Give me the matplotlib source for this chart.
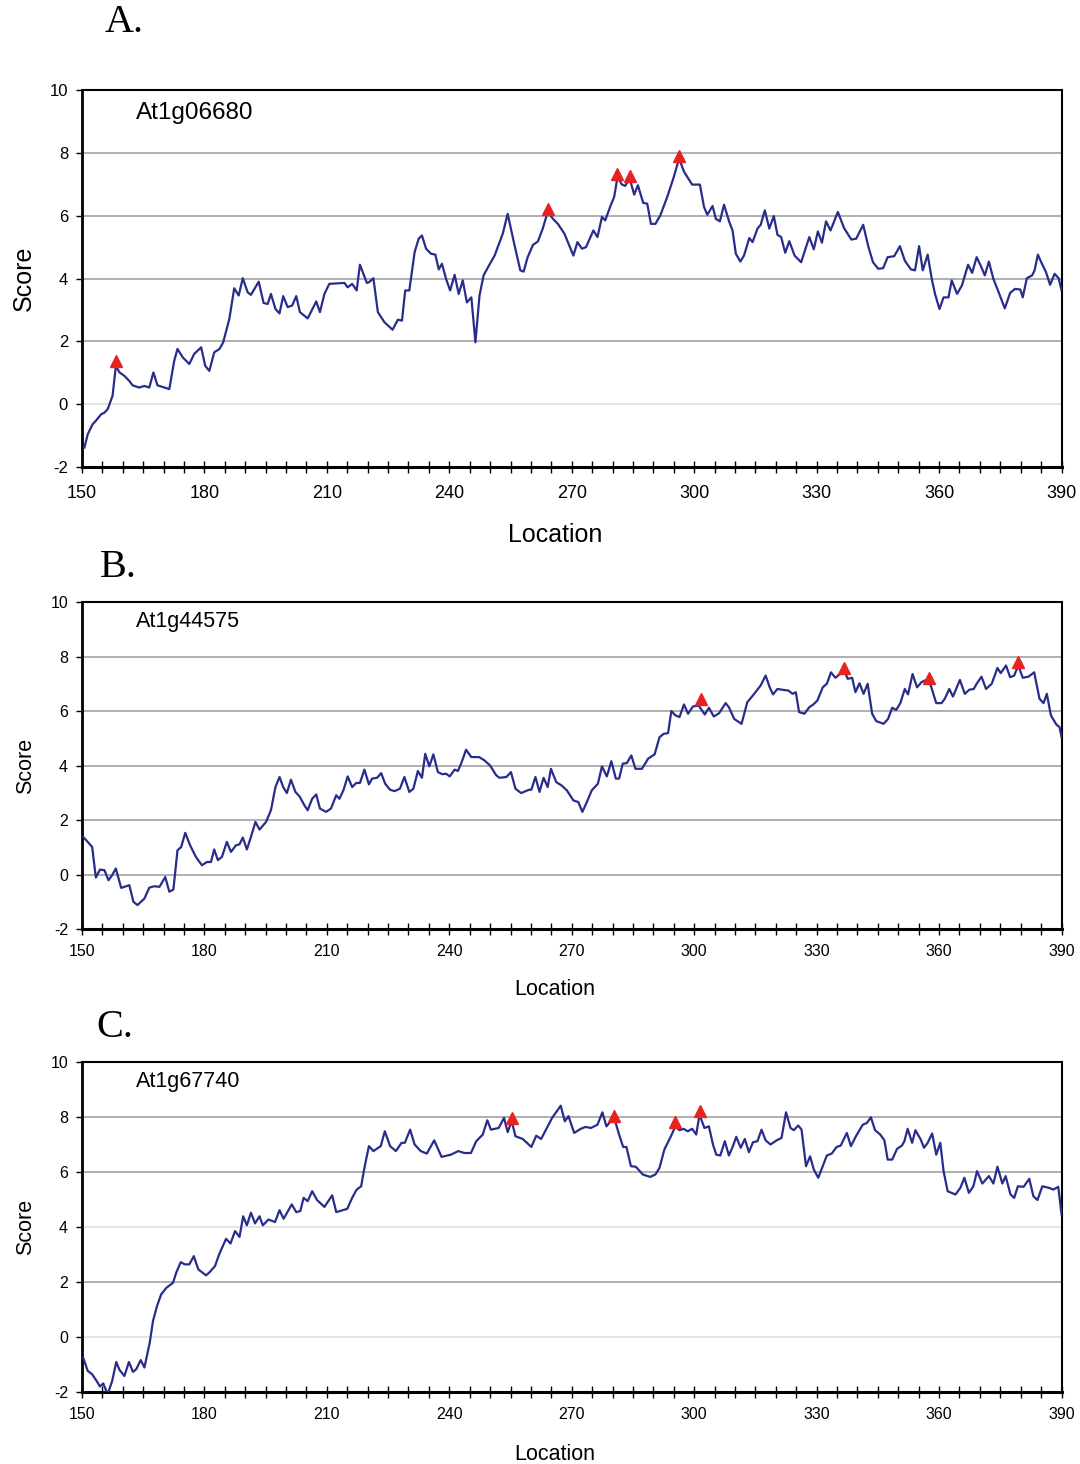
import numpy as np
import matplotlib
matplotlib.use("Agg")
import matplotlib.pyplot as plt
from matplotlib.ticker import MultipleLocator

plt.rcParams['font.family'] = ['Liberation Sans', 'DejaVu Sans']
plt.rcParams['axes.unicode_minus'] = False

# panel A: At1g06680
a_loc = [150.6, 151.4, 152.6, 153.4, 154.7, 155.5, 156.3, 157.5, 158.3, 159.2, 160.4, 161.6, 162.4, 164.0,
         165.3, 166.5, 167.5, 168.5, 170.2, 171.4, 172.6, 173.4, 174.7, 176.3, 177.5, 179.2, 180.2, 181.2,
         182.4, 183.7, 184.6, 186.1, 187.3, 188.4, 189.4, 190.6, 191.4, 193.3, 194.5, 195.5, 196.3, 197.4,
         198.4, 199.3, 200.4, 201.5, 202.5, 203.4, 205.3, 207.4, 208.3, 209.4, 210.6, 214.3, 215.1, 216.2,
         217.3, 218.1, 219.8, 220.3, 221.4, 222.5, 224.1, 226.1, 227.4, 228.4, 229.2, 230.2, 231.5, 232.5,
         233.3, 234.3, 235.5, 236.6, 237.4, 238.2, 239.2, 240.2, 241.3, 242.3, 243.3, 244.3, 245.4, 246.4,
         247.4, 248.4, 249.7, 251.1, 253.1, 254.3, 256.0, 257.4, 258.2, 259.2, 260.5, 261.7, 262.9, 264.1,
         265.4, 266.6, 268.2, 269.4,
         270.4, 271.4, 272.5, 273.5, 275.3, 276.3, 277.4, 278.2, 279.4, 280.4, 281.2, 282.3, 283.1, 284.2,
         285.3, 286.2, 287.5, 288.5, 289.4, 290.5, 291.7, 293.4, 295.0, 296.3, 297.5, 299.5, 301.4, 302.4,
         303.2, 304.5, 305.3, 306.3, 307.3, 308.6, 309.4, 310.2, 311.3, 312.2, 313.5, 314.3, 315.5, 316.3,
         317.3, 318.4, 319.5, 320.4, 321.3, 322.3, 323.3, 324.6, 326.2, 328.2, 329.3, 330.3, 331.3, 332.3,
         333.4, 335.2, 336.7, 338.5, 339.7, 341.4, 342.6, 343.8, 345.1, 346.3, 347.4, 349.0, 350.4, 351.6,
         353.1, 354.1, 355.1, 356.0, 357.2, 358.2, 359.0, 360.1, 361.1, 362.3, 363.1, 364.4, 365.6, 367.1,
         368.1, 369.2, 370.2, 371.2, 372.2, 373.3, 374.6, 376.1, 377.4, 378.6, 379.9, 380.5, 381.5, 382.8,
         383.4, 384.2, 385.2, 386.2, 387.2, 388.3, 389.3, 390.0]
a_score = [-1.38, -0.96, -0.64, -0.53, -0.32, -0.27, -0.16, 0.27, 1.22, 1.01, 0.9, 0.74, 0.6, 0.53,
           0.58, 0.53, 1.01, 0.6, 0.53, 0.48, 1.38, 1.76, 1.49, 1.28, 1.6, 1.81, 1.22, 1.06,
           1.65, 1.76, 1.97, 2.71, 3.69, 3.46, 4.01, 3.56, 3.48, 3.9, 3.22, 3.19, 3.51, 3.03,
           2.89, 3.44, 3.09, 3.14, 3.44, 2.93, 2.73, 3.27, 2.93, 3.51, 3.83, 3.86, 3.72, 3.83,
           3.62, 4.44, 3.86, 3.88, 4.01, 2.93, 2.61, 2.37, 2.69, 2.66, 3.62, 3.62, 4.84, 5.27,
           5.37, 4.95, 4.79, 4.76, 4.29, 4.47, 3.99, 3.62, 4.12, 3.51, 3.94, 3.24, 3.4, 1.97,
           3.46, 4.1, 4.41, 4.73, 5.43, 6.06, 5.05, 4.26, 4.22, 4.68, 5.07, 5.18, 5.59, 6.12,
           5.9, 5.74, 5.43, 5.05,
           4.73, 5.16, 4.95, 5.0, 5.53, 5.32, 5.96, 5.85, 6.28, 6.6, 7.23, 6.99, 6.95, 7.18,
           6.67, 6.97, 6.41, 6.38, 5.74, 5.74, 6.01, 6.6, 7.23, 7.82, 7.4, 6.99, 6.99, 6.28,
           6.03, 6.31, 5.9, 5.82, 6.35, 5.8, 5.53, 4.79, 4.54, 4.73, 5.29, 5.16, 5.59, 5.71,
           6.17, 5.59, 5.99, 5.39, 5.32, 4.82, 5.19, 4.73, 4.52, 5.32, 4.93, 5.5, 5.14, 5.82,
           5.53, 6.12, 5.61, 5.24, 5.27, 5.71, 5.05, 4.52, 4.31, 4.33, 4.68, 4.71, 5.03, 4.57,
           4.29, 4.26, 5.03, 4.26, 4.76, 3.99, 3.51, 3.03, 3.4, 3.4, 3.94, 3.51, 3.78, 4.44,
           4.18, 4.68, 4.41, 4.1, 4.54, 3.99, 3.56, 3.05, 3.54, 3.67, 3.65, 3.4, 4.01, 4.1,
           4.26, 4.76, 4.47, 4.2, 3.8, 4.15, 4.01, 3.62]
a_peak_loc = [158.3, 264.1, 281.2, 284.2, 296.3]
a_peak_score = [1.38, 6.22, 7.34, 7.26, 7.9]

# panel B: At1g44575
b_loc = [150.3, 151.4, 152.5, 153.4, 154.4, 155.5, 156.5, 157.4, 158.3, 159.6, 160.4, 161.6, 162.6, 163.6,
         165.3, 166.5, 167.7, 169.0, 170.4, 171.4, 172.4, 173.4, 174.3, 175.3, 176.5, 177.9, 179.4, 180.6,
         181.6, 182.4, 183.3, 184.3, 185.5, 186.5, 187.7, 188.6, 189.4, 190.4, 191.4, 192.5, 193.5, 195.1,
         196.3, 197.4, 198.4, 199.3, 200.2, 201.2, 202.3, 203.3, 204.5, 205.3, 206.4, 207.4, 208.3, 209.8,
         211.0, 212.3, 213.1, 214.1, 215.1, 216.2, 217.2, 218.1, 219.2, 220.3, 221.1, 222.3, 223.3, 224.3,
         225.5, 226.6, 227.9, 229.0, 230.2, 231.2, 232.3, 233.3, 234.1, 235.1, 236.1, 237.2, 238.3, 239.2,
         240.1, 241.3, 242.1, 242.9, 244.1, 245.4, 247.3, 248.6, 250.0, 251.5, 252.3, 254.0, 255.1, 256.2,
         257.6, 259.5, 260.1, 261.1, 262.1, 263.1, 264.1, 264.9, 266.2,
         267.5, 268.8, 270.4, 271.6, 272.6, 273.7, 274.9, 276.4, 277.4, 278.6, 279.7, 280.8, 281.6, 282.5,
         283.5, 284.6, 285.6, 287.2, 288.7, 290.3, 291.5, 292.5, 293.6, 294.4, 295.4, 296.4, 297.5, 298.5,
         299.7, 301.1, 302.6, 303.6, 304.8, 306.1, 307.7, 308.5, 309.8, 311.6, 313.0, 314.7, 316.3, 317.5,
         318.5, 319.3, 320.4, 321.6, 323.1, 324.1, 324.9, 325.7, 327.0, 328.2, 329.2, 330.2, 331.5, 332.5,
         333.5, 334.6, 335.7, 336.8, 337.6, 338.7, 339.5, 340.5, 341.5, 342.5, 343.6, 344.6, 346.4, 347.5,
         348.5, 349.5, 350.5, 351.6, 352.4, 353.5, 354.6, 355.7, 357.3, 358.1, 359.3, 360.6, 361.4, 362.5,
         363.4, 365.1, 366.3, 367.4, 368.5, 369.2, 370.4, 371.5, 372.9, 374.3, 375.1, 376.4, 377.4, 378.4,
         379.4, 380.5, 381.9, 383.3, 384.6, 385.6, 386.4, 387.4, 388.7, 389.5, 390.0]
b_score = [1.38, 1.2, 1.01, -0.11, 0.18, 0.16, -0.21, -0.02, 0.22, -0.49, -0.45, -0.39, -1.0, -1.12,
           -0.88, -0.48, -0.43, -0.45, -0.09, -0.63, -0.55, 0.89, 1.01, 1.53, 1.07, 0.65, 0.34, 0.46,
           0.46, 0.92, 0.53, 0.65, 1.2, 0.83, 1.07, 1.11, 1.36, 0.92, 1.38, 1.93, 1.65, 1.93,
           2.36, 3.21, 3.58, 3.21, 2.99, 3.48, 3.03, 2.87, 2.54, 2.36, 2.78, 2.94, 2.42, 2.3,
           2.42, 2.91, 2.78, 3.11, 3.6, 3.21, 3.36, 3.36, 3.85, 3.31, 3.52, 3.55, 3.72, 3.33,
           3.11, 3.06, 3.15, 3.58, 3.03, 3.15, 3.8, 3.55, 4.43, 3.97, 4.41, 3.76, 3.68, 3.7,
           3.6, 3.85, 3.8, 4.07, 4.58, 4.31, 4.31, 4.19, 4.0, 3.64, 3.55, 3.58, 3.76, 3.15,
           2.99, 3.11, 3.11, 3.58, 3.03, 3.55, 3.21, 3.88, 3.39,
           3.27, 3.09, 2.72, 2.66, 2.3, 2.66, 3.09, 3.33, 3.97, 3.6, 4.16, 3.52, 3.52, 4.07,
           4.09, 4.37, 3.88, 3.88, 4.25, 4.41, 5.04, 5.16, 5.19, 6.0, 5.84, 5.78, 6.24, 5.9,
           6.17, 6.2, 5.87, 6.12, 5.8, 5.92, 6.29, 6.14, 5.71, 5.53, 6.32, 6.63, 6.94, 7.3,
           6.87, 6.61, 6.81, 6.78, 6.75, 6.63, 6.69, 5.96, 5.9, 6.14, 6.24, 6.39, 6.87, 7.0,
           7.42, 7.22, 7.36, 7.48, 7.18, 7.22, 6.69, 7.02, 6.63, 7.0, 5.9, 5.63, 5.53, 5.71,
           6.12, 6.04, 6.29, 6.81, 6.61, 7.36, 6.87, 7.06, 7.18, 6.87, 6.29, 6.29, 6.45, 6.81,
           6.53, 7.14, 6.63, 6.78, 6.81, 7.0, 7.26, 6.81, 7.0, 7.58, 7.39, 7.67, 7.24, 7.3,
           7.67, 7.22, 7.26, 7.42, 6.45, 6.29, 6.63, 5.84, 5.51, 5.41, 5.04]
b_peak_loc = [301.6, 336.6, 357.5, 379.3]
b_peak_score = [6.45, 7.58, 7.22, 7.81]

# panel C: At1g67740
c_loc = [150.3, 151.4, 152.5, 153.6, 154.4, 155.2, 156.3, 157.4, 158.4, 159.2, 160.4, 161.5, 162.5, 163.3,
         164.4, 165.3, 166.6, 167.4, 168.4, 169.4, 170.7, 172.3, 173.1, 174.2, 175.2, 176.3, 177.4, 178.5,
         180.4, 181.3, 182.6, 183.6, 185.3, 186.4, 187.5, 188.6, 189.5, 190.4, 191.4, 192.4, 193.5, 194.3,
         195.7, 197.3, 198.4, 199.4, 201.4, 202.5, 203.5, 204.3, 205.3, 206.4, 207.6, 209.4, 211.3, 212.3,
         215.0, 216.2, 217.3, 218.4, 219.2, 220.3, 221.4, 223.2, 224.2, 225.5, 226.9, 228.3, 229.1, 230.4,
         231.5, 233.0, 234.5, 236.3, 238.1, 240.4, 242.2, 243.7, 245.3, 246.6, 248.2, 249.3, 250.2, 252.1,
         253.4, 254.3, 255.3, 256.2, 258.0, 260.1, 261.3, 262.5, 263.7, 265.2, 267.3, 268.3, 269.2,
         270.6, 272.2, 273.4, 274.7, 276.3, 277.5, 278.5, 279.3, 280.4, 281.6, 282.6, 283.4, 284.5, 285.7,
         287.4, 289.2, 290.5, 291.5, 292.7, 294.3, 295.4, 296.4, 297.4, 298.4, 299.5, 300.5, 301.3, 302.5,
         303.6, 304.6, 305.4, 306.4, 307.5, 308.5, 309.5, 310.3, 311.4, 312.4, 313.4, 314.4, 315.5, 316.5,
         317.5, 318.7, 320.2, 321.4, 322.5, 323.6, 324.4, 325.5, 326.3, 327.4, 328.4, 329.3, 330.4, 331.5,
         332.5, 333.7, 334.9, 335.9, 337.4, 338.4, 339.7, 341.3, 342.3, 343.3, 344.3, 345.6, 346.6, 347.4,
         348.5, 349.7, 350.9, 351.5, 352.3, 353.4, 354.2, 355.5, 356.3, 357.2, 358.3, 359.3, 360.3, 361.1,
         362.1, 364.0, 365.2, 366.2, 367.3, 368.4, 369.3, 370.6, 372.2, 373.3, 374.3, 375.5, 376.3, 377.5,
         378.4, 379.3, 380.7, 382.1, 383.1, 384.1, 385.3, 387.0, 388.0, 389.2, 390.0]
c_score = [-0.75, -1.23, -1.36, -1.6, -1.8, -1.69, -2.08, -1.6, -0.91, -1.2, -1.42, -0.91, -1.27, -1.17,
           -0.84, -1.11, -0.21, 0.58, 1.13, 1.55, 1.79, 1.97, 2.34, 2.72, 2.64, 2.64, 2.94, 2.46,
           2.24, 2.36, 2.58, 3.0, 3.57, 3.4, 3.85, 3.64, 4.39, 4.06, 4.52, 4.13, 4.39, 4.06,
           4.27, 4.18, 4.61, 4.3, 4.82, 4.54, 4.58, 5.06, 4.94, 5.3, 4.98, 4.73, 5.15, 4.54,
           4.66, 5.06, 5.36, 5.48, 6.15, 6.94, 6.76, 6.94, 7.48, 6.94, 6.76, 7.06, 7.06, 7.54,
           7.0, 6.76, 6.67, 7.15, 6.55, 6.63, 6.76, 6.69, 6.69, 7.12, 7.36, 7.88, 7.54, 7.6,
           7.97, 7.45, 7.85, 7.3, 7.2, 6.91, 7.32, 7.2, 7.54, 7.97, 8.41, 7.84, 8.03,
           7.42, 7.57, 7.64, 7.6, 7.72, 8.17, 7.66, 7.8, 7.97, 7.36, 6.91, 6.91, 6.21, 6.19,
           5.91, 5.82, 5.91, 6.15, 6.82, 7.3, 7.66, 7.52, 7.57, 7.48, 7.57, 7.36, 8.09, 7.6,
           7.66, 7.0, 6.63, 6.6, 7.12, 6.6, 6.94, 7.28, 6.88, 7.2, 6.72, 7.08, 7.12, 7.54,
           7.15, 7.0, 7.15, 7.24, 8.17, 7.6, 7.52, 7.69, 7.54, 6.21, 6.57, 6.09, 5.79, 6.21,
           6.6, 6.67, 6.91, 6.96, 7.42, 6.94, 7.32, 7.72, 7.78, 7.99, 7.52, 7.36, 7.15, 6.45,
           6.45, 6.84, 6.96, 7.12, 7.57, 7.06, 7.52, 7.18, 6.88, 7.06, 7.4, 6.63, 7.06, 6.03,
           5.3, 5.18, 5.42, 5.79, 5.24, 5.48, 6.03, 5.58, 5.85, 5.58, 6.19, 5.58, 5.85, 5.18,
           5.06, 5.48, 5.46, 5.75, 5.12, 4.98, 5.48, 5.42, 5.36, 5.46, 4.46]
c_peak_loc = [255.3, 280.4, 295.4, 301.3]
c_peak_score = [7.97, 8.05, 7.81, 8.21]

line_color = '#282d8c'
peak_color = '#e8231f'

fig = plt.figure(figsize=(10.8, 14.64), dpi=100)

panels = [
    # letter, gene, loc, score, peaks, axes rect, font sizes, light gridlines, letter pos, pads
    ('A.', 'At1g06680', a_loc, a_score, a_peak_loc, a_peak_score,
     [0.0759, 0.681, 0.907, 0.2575], 17.5, 13, 12, 18, [0], (0.023, 1.18), 9, 15),
    ('B.', 'At1g44575', b_loc, b_score, b_peak_loc, b_peak_score,
     [0.0759, 0.3654, 0.907, 0.2234], 15.5, 11.5, 11.5, 15.5, [], (0.018, 1.104), 7, 14),
    ('C.', 'At1g67740', c_loc, c_score, c_peak_loc, c_peak_score,
     [0.0759, 0.0492, 0.907, 0.2254], 15.5, 11.5, 11.5, 15.5, [4, 0], (0.015, 1.106), 7, 16),
]

for (letter, gene, loc, score, pk_loc, pk_score, rect, gene_fs, xt_fs, yt_fs, lab_fs,
     light, letter_xy, xpad, xlabpad) in panels:
    ax = fig.add_axes(rect)
    for g in range(0, 10, 2):
        c = '#dddddd' if g in light else '#9a9a9a'
        ax.axhline(g, color=c, lw=1.1, zorder=1)
    ax.plot(loc, score, color=line_color, lw=1.6, zorder=3)
    ax.plot(pk_loc, pk_score, linestyle='none', marker='^', markersize=9,
            color=peak_color, zorder=4)
    ax.set_xlim(150, 390)
    ax.set_ylim(-2, 10)
    ax.xaxis.set_major_locator(MultipleLocator(30))
    ax.xaxis.set_minor_locator(MultipleLocator(5))
    ax.yaxis.set_major_locator(MultipleLocator(2))
    ax.tick_params(axis='x', which='both', direction='inout', length=8, width=1,
                   labelsize=xt_fs, pad=xpad)
    ax.tick_params(axis='y', which='major', direction='out', length=4, width=1,
                   labelsize=yt_fs, pad=6)
    for s in ax.spines.values():
        s.set_linewidth(1.5)
    ax.spines['bottom'].set_linewidth(2.2)
    ax.spines['left'].set_linewidth(2.0)
    ax.set_xlabel('Location', fontsize=lab_fs, labelpad=xlabpad)
    ax.xaxis.label.set_x(0.483)
    ax.set_ylabel('Score', fontsize=lab_fs, labelpad=10)
    ax.text(0.055, 0.94, gene, transform=ax.transAxes, fontsize=gene_fs,
            va='center', ha='left')
    ax.text(letter_xy[0], letter_xy[1], letter, transform=ax.transAxes, fontsize=29,
            family=['Liberation Serif', 'DejaVu Serif'], va='center', ha='left')

fig.savefig('out.png', dpi=100)
